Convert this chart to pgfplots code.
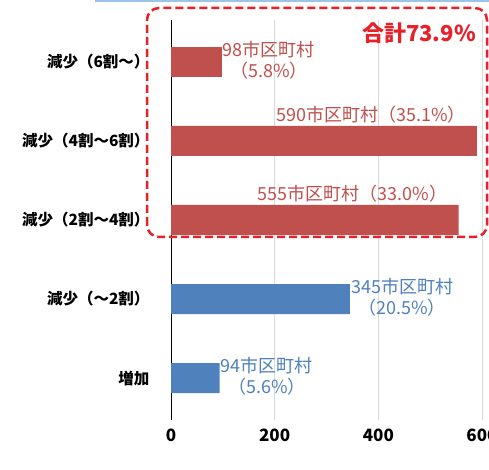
\documentclass[border=0pt]{standalone}
\usepackage{pgfplots}
\pgfplotsset{compat=1.18}
\usepackage{fontspec}
\setmainfont{Noto Sans CJK JP}
\definecolor{barred}{HTML}{C0504D}
\definecolor{barblue}{HTML}{4F81BD}
\definecolor{boxred}{HTML}{E8202A}
\definecolor{gridgray}{HTML}{D9D9D9}
\definecolor{topblue}{HTML}{9DC3E6}

\begin{document}
\begin{tikzpicture}[x=1pt,y=1pt]
\useasboundingbox (0,0) rectangle (489,470);
\begin{scope}
\clip (0,0) rectangle (489,470);
\fill[white] (0,0) rectangle (489,470);
\draw[topblue, line width=2pt] (95,469) -- (489,469);
\begin{axis}[
    at={(171pt,50pt)}, anchor=south west,
    scale only axis,
    width=318pt, height=400pt,
    xmin=0, xmax=613.5,
    ymin=-0.53, ymax=4.53,
    axis lines*=left,
    x axis line style={draw=none},
    y axis line style={black, line width=1pt, -},
    major tick length=0pt,
    xtick={0,200,400,600},
    ytick={0,1,2,3,4},
    yticklabels={増加, 減少（～2割）, 減少（2割～4割）, 減少（4割～6割）, 減少（6割～）},
    xmajorgrids,
    grid style={gridgray, line width=1pt},
    tick label style={/pgf/number format/assume math mode=true},
    xticklabel style={font=\fontsize{17}{19}\selectfont\bfseries, yshift=-5pt},
    yticklabel style={font=\fontsize{15.5}{17}\selectfont\bfseries, xshift=-18pt},
    clip=false,
]
% 減少（6割～）
\addplot[xbar, bar width=30pt, bar shift=0pt, fill=barred, draw=none,
    nodes near coords, point meta=explicit symbolic,
    every node near coord/.style={anchor=west, align=center, inner sep=1pt,
      text=barred, yshift=2pt, font=\fontsize{18}{21}\selectfont}]
  coordinates {(98,4) [98市区町村\\（5.8\%）]};
% 減少（4割～6割）, 減少（2割～4割）
\addplot[xbar, bar width=30pt, bar shift=0pt, fill=barred, draw=none,
    nodes near coords, point meta=explicit symbolic,
    every node near coord/.style={anchor=south east, inner sep=1pt,
      text=barred, yshift=17pt, xshift=-10pt, font=\fontsize{18}{21}\selectfont}]
  coordinates {(590,3) [590市区町村（35.1\%）] (555,2) [555市区町村（33.0\%）]};
% 減少（～2割）, 増加
\addplot[xbar, bar width=30pt, bar shift=0pt, fill=barblue, draw=none,
    nodes near coords, point meta=explicit symbolic,
    every node near coord/.style={anchor=west, align=center, inner sep=1pt,
      text=barblue, yshift=2pt, font=\fontsize{18}{21}\selectfont}]
  coordinates {(345,1) [345市区町村\\（20.5\%）] (94,0) [94市区町村\\（5.6\%）]};
\end{axis}
\draw[boxred, line width=2.5pt, dash pattern=on 8pt off 4pt, rounded corners=12pt]
  (147,233) rectangle (487,462);
\node[text=boxred, anchor=east, inner sep=0pt, font=\fontsize{22}{24}\selectfont\bfseries]
  at (476,437) {合計73.9\%};
\end{scope}
\end{tikzpicture}
\end{document}
